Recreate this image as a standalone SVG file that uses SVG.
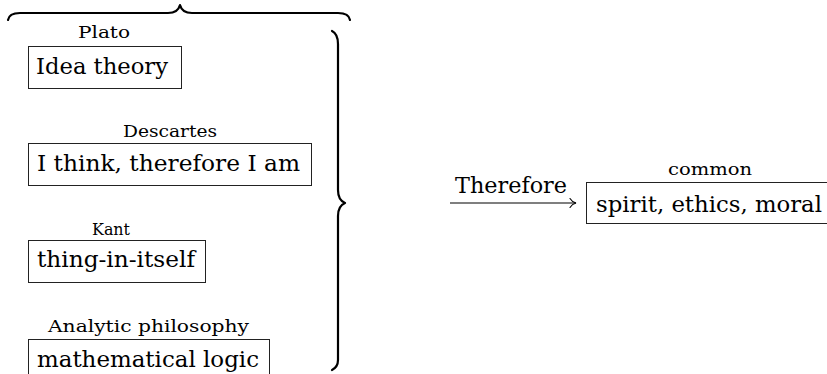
<svg xmlns="http://www.w3.org/2000/svg" width="827" height="374" viewBox="0 0 827 374">
<defs>
<style>
text{font-family:'DejaVu Serif',serif;fill:#000}
.lbl{font-size:16px}
.txt{font-size:22px}
.box{fill:#fff;stroke:#222;stroke-width:1}
.brace{fill:none;stroke:#000;stroke-width:2.2;stroke-linecap:round;stroke-linejoin:round}
.conn{fill:none;stroke:#000;stroke-width:1.1}
</style>
<marker id="arr" markerWidth="10" markerHeight="12" refX="8" refY="6" orient="auto" markerUnits="userSpaceOnUse">
<path d="M2,1.5 Q4,5 8,6 Q4,7 2,10.5" fill="none" stroke="#000" stroke-width="1.1" stroke-linecap="round"/>
</marker>
</defs>
<rect width="827" height="374" fill="#fff"/>
<g id="braces">
<path class="brace" d="M8,20 Q9,13 20,13 L168,13 Q178,13 180,5 Q182,13 192,13 L338,13 Q349,13 350,20"/>
<path class="brace" d="M332,31 Q338,34 338,44 L338,190 Q338,200 345,203 Q338,206 338,216 L338,360 Q338,367 332,370"/>
</g>
<g id="plato">
<text class="lbl" x="78" y="38" textLength="52" lengthAdjust="spacingAndGlyphs">Plato</text>
<rect class="box" x="28.5" y="46.5" width="153" height="42"/>
<text class="txt" x="36" y="74" textLength="132" lengthAdjust="spacingAndGlyphs">Idea theory</text>
</g>
<g id="descartes">
<text class="lbl" x="123" y="137" textLength="94" lengthAdjust="spacingAndGlyphs">Descartes</text>
<rect class="box" x="28.5" y="143.5" width="283" height="42"/>
<text class="txt" x="37" y="171" textLength="263" lengthAdjust="spacingAndGlyphs">I think, therefore I am</text>
</g>
<g id="kant">
<text class="lbl" x="92" y="235" textLength="38" lengthAdjust="spacingAndGlyphs">Kant</text>
<rect class="box" x="28.5" y="240.5" width="177" height="42"/>
<text class="txt" x="37" y="267" textLength="158" lengthAdjust="spacingAndGlyphs">thing-in-itself</text>
</g>
<g id="analytic">
<text class="lbl" x="48" y="332" textLength="201" lengthAdjust="spacingAndGlyphs">Analytic philosophy</text>
<rect class="box" x="28.5" y="339.5" width="241" height="42"/>
<text class="txt" x="37" y="367" textLength="222" lengthAdjust="spacingAndGlyphs">mathematical logic</text>
</g>
<g id="common">
<text class="lbl" x="668" y="175" textLength="84" lengthAdjust="spacingAndGlyphs">common</text>
<rect class="box" x="586.5" y="182.5" width="250" height="41"/>
<text class="txt" x="596" y="212" textLength="226" lengthAdjust="spacingAndGlyphs">spirit, ethics, moral</text>
</g>
<g id="connectors">
<path class="conn" d="M450,203 L576,203" marker-end="url(#arr)"/>
<text class="txt" x="455" y="193" textLength="112" lengthAdjust="spacingAndGlyphs">Therefore</text>
</g>
</svg>
